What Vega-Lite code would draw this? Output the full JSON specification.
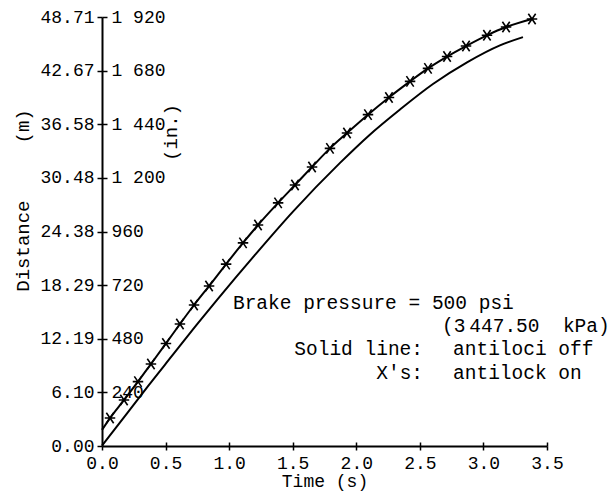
{
  "$schema": "https://vega.github.io/schema/vega-lite/v6.json",
  "width": 445,
  "height": 429,
  "autosize": "none",
  "padding": {"left": 102, "top": 17, "right": 63, "bottom": 45},
  "background": "white",
  "config": {
    "font": "Liberation Mono",
    "view": {"stroke": null},
    "axis": {
      "grid": false,
      "domainColor": "black",
      "domainWidth": 2,
      "tickColor": "black",
      "tickWidth": 1.5,
      "labelColor": "black",
      "titleColor": "black",
      "labelFont": "Liberation Mono",
      "titleFont": "Liberation Mono",
      "titleFontWeight": "normal",
      "labelFontSize": 18,
      "titleFontSize": 19
    }
  },
  "datasets": {
    "curves": [
      {"brake": "off", "t": 0, "d": 2},
      {"brake": "off", "t": 0.2, "d": 148},
      {"brake": "off", "t": 0.362, "d": 268},
      {"brake": "off", "t": 0.55, "d": 403},
      {"brake": "off", "t": 0.755, "d": 550},
      {"brake": "off", "t": 0.905, "d": 654},
      {"brake": "off", "t": 1.2, "d": 853},
      {"brake": "off", "t": 1.502, "d": 1049},
      {"brake": "off", "t": 1.872, "d": 1267},
      {"brake": "off", "t": 2.1, "d": 1390},
      {"brake": "off", "t": 2.344, "d": 1506},
      {"brake": "off", "t": 2.603, "d": 1620},
      {"brake": "off", "t": 2.871, "d": 1717},
      {"brake": "off", "t": 3.13, "d": 1793},
      {"brake": "off", "t": 3.311, "d": 1830},
      {"brake": "on", "t": 0, "d": 72},
      {"brake": "on", "t": 0.063, "d": 125},
      {"brake": "on", "t": 0.173, "d": 206},
      {"brake": "on", "t": 0.283, "d": 288},
      {"brake": "on", "t": 0.385, "d": 367},
      {"brake": "on", "t": 0.503, "d": 459},
      {"brake": "on", "t": 0.613, "d": 546},
      {"brake": "on", "t": 0.724, "d": 631},
      {"brake": "on", "t": 0.842, "d": 716},
      {"brake": "on", "t": 0.976, "d": 814},
      {"brake": "on", "t": 1.109, "d": 909},
      {"brake": "on", "t": 1.227, "d": 989},
      {"brake": "on", "t": 1.385, "d": 1088},
      {"brake": "on", "t": 1.518, "d": 1168},
      {"brake": "on", "t": 1.652, "d": 1249},
      {"brake": "on", "t": 1.793, "d": 1332},
      {"brake": "on", "t": 1.927, "d": 1401},
      {"brake": "on", "t": 2.092, "d": 1483},
      {"brake": "on", "t": 2.257, "d": 1560},
      {"brake": "on", "t": 2.423, "d": 1632},
      {"brake": "on", "t": 2.564, "d": 1690},
      {"brake": "on", "t": 2.714, "d": 1743},
      {"brake": "on", "t": 2.863, "d": 1790},
      {"brake": "on", "t": 3.028, "d": 1838},
      {"brake": "on", "t": 3.178, "d": 1875},
      {"brake": "on", "t": 3.382, "d": 1911}
    ],
    "notesLeft": [
      {"t": 1.03, "d": 640, "label": "Brake pressure = 500 psi"},
      {"t": 2.674, "d": 537, "label": "(3\u2009447.50\u00a0\u00a0kPa)"},
      {"t": 2.761, "d": 434, "label": "antiloci off"},
      {"t": 2.761, "d": 327, "label": "antilock on"}
    ],
    "notesRight": [
      {"t": 2.525, "d": 434, "label": "Solid line:"},
      {"t": 2.525, "d": 327, "label": "X's:"}
    ]
  },
  "layer": [
    {
      "data": {"name": "curves"},
      "transform": [{"filter": "datum.brake == 'off'"}],
      "mark": {"type": "line", "color": "black", "strokeWidth": 2, "interpolate": "monotone"},
      "encoding": {
        "x": {
          "field": "t",
          "type": "quantitative",
          "scale": {"domain": [0, 3.5], "nice": false},
          "axis": {
            "orient": "bottom",
            "values": [0, 0.5, 1, 1.5, 2, 2.5, 3, 3.5],
            "format": ".1f",
            "title": "Time (s)",
            "titleFontSize": 18,
            "tickSize": 4,
            "labelPadding": 4,
            "labelFlush": false,
            "titleY": 35,
            "titleBaseline": "middle"
          }
        },
        "y": {
          "field": "d",
          "type": "quantitative",
          "scale": {"domain": [0, 1920], "nice": false},
          "axis": {
            "orient": "left",
            "values": [0, 240, 480, 720, 960, 1200, 1440, 1680, 1920],
            "labelExpr": "['0.00','6.10','12.19','18.29','24.38','30.48','36.58','42.67','48.71'][round(datum.value/240)]",
            "tickSize": 5,
            "labelPadding": 3,
            "title": "Distance\u00a0\u00a0\u00a0\u00a0\u00a0(m)",
            "titleX": -80,
            "titleY": 183,
            "titleBaseline": "middle",
            "titleAlign": "center",
            "titleAngle": -90
          }
        }
      }
    },
    {
      "data": {"name": "curves"},
      "transform": [{"filter": "datum.brake == 'on'"}],
      "mark": {"type": "line", "color": "black", "strokeWidth": 2, "interpolate": "monotone"},
      "encoding": {
        "x": {
          "field": "t",
          "type": "quantitative",
          "scale": {"domain": [0, 3.5], "nice": false},
          "axis": {
            "orient": "top",
            "offset": -429,
            "domain": false,
            "labels": false,
            "title": null,
            "values": [0.5, 1, 1.5, 2, 2.5, 3, 3.5],
            "tickSize": 4
          }
        },
        "y": {
          "field": "d",
          "type": "quantitative",
          "scale": {"domain": [0, 1920], "nice": false},
          "axis": {
            "orient": "right",
            "offset": -445,
            "domain": false,
            "values": [240, 480, 720, 960, 1200, 1440, 1680, 1920],
            "labelExpr": "datum.value >= 1000 ? floor(datum.value/1000) + ' ' + format(datum.value % 1000, '03d') : format(datum.value, 'd')",
            "tickSize": 5,
            "labelPadding": 4,
            "title": "(in.)",
            "titleAngle": -90,
            "titleX": 68,
            "titleY": 115,
            "titleBaseline": "middle",
            "titleAlign": "center"
          }
        }
      }
    },
    {
      "data": {"name": "curves"},
      "transform": [{"filter": "datum.brake == 'on' && datum.t > 0"}],
      "mark": {
        "type": "point",
        "shape": "M-0.7,-1L0.7,1M-0.7,1L0.7,-1M-1,0L1,0",
        "size": 110,
        "filled": false,
        "stroke": "black",
        "strokeWidth": 1.6,
        "opacity": 1
      },
      "encoding": {
        "x": {"field": "t", "type": "quantitative", "scale": {"domain": [0, 3.5], "nice": false}, "axis": null},
        "y": {"field": "d", "type": "quantitative", "scale": {"domain": [0, 1920], "nice": false}, "axis": null}
      }
    },
    {
      "data": {"name": "notesLeft"},
      "mark": {"type": "text", "align": "left", "baseline": "middle", "font": "Liberation Mono", "fontSize": 19.5, "color": "black"},
      "encoding": {
        "x": {"field": "t", "type": "quantitative", "scale": {"domain": [0, 3.5], "nice": false}, "axis": null},
        "y": {"field": "d", "type": "quantitative", "scale": {"domain": [0, 1920], "nice": false}, "axis": null},
        "text": {"field": "label"}
      }
    },
    {
      "data": {"name": "notesRight"},
      "mark": {"type": "text", "align": "right", "baseline": "middle", "font": "Liberation Mono", "fontSize": 19.5, "color": "black"},
      "encoding": {
        "x": {"field": "t", "type": "quantitative", "scale": {"domain": [0, 3.5], "nice": false}, "axis": null},
        "y": {"field": "d", "type": "quantitative", "scale": {"domain": [0, 1920], "nice": false}, "axis": null},
        "text": {"field": "label"}
      }
    }
  ],
  "resolve": {"axis": {"x": "independent", "y": "independent"}}
}
